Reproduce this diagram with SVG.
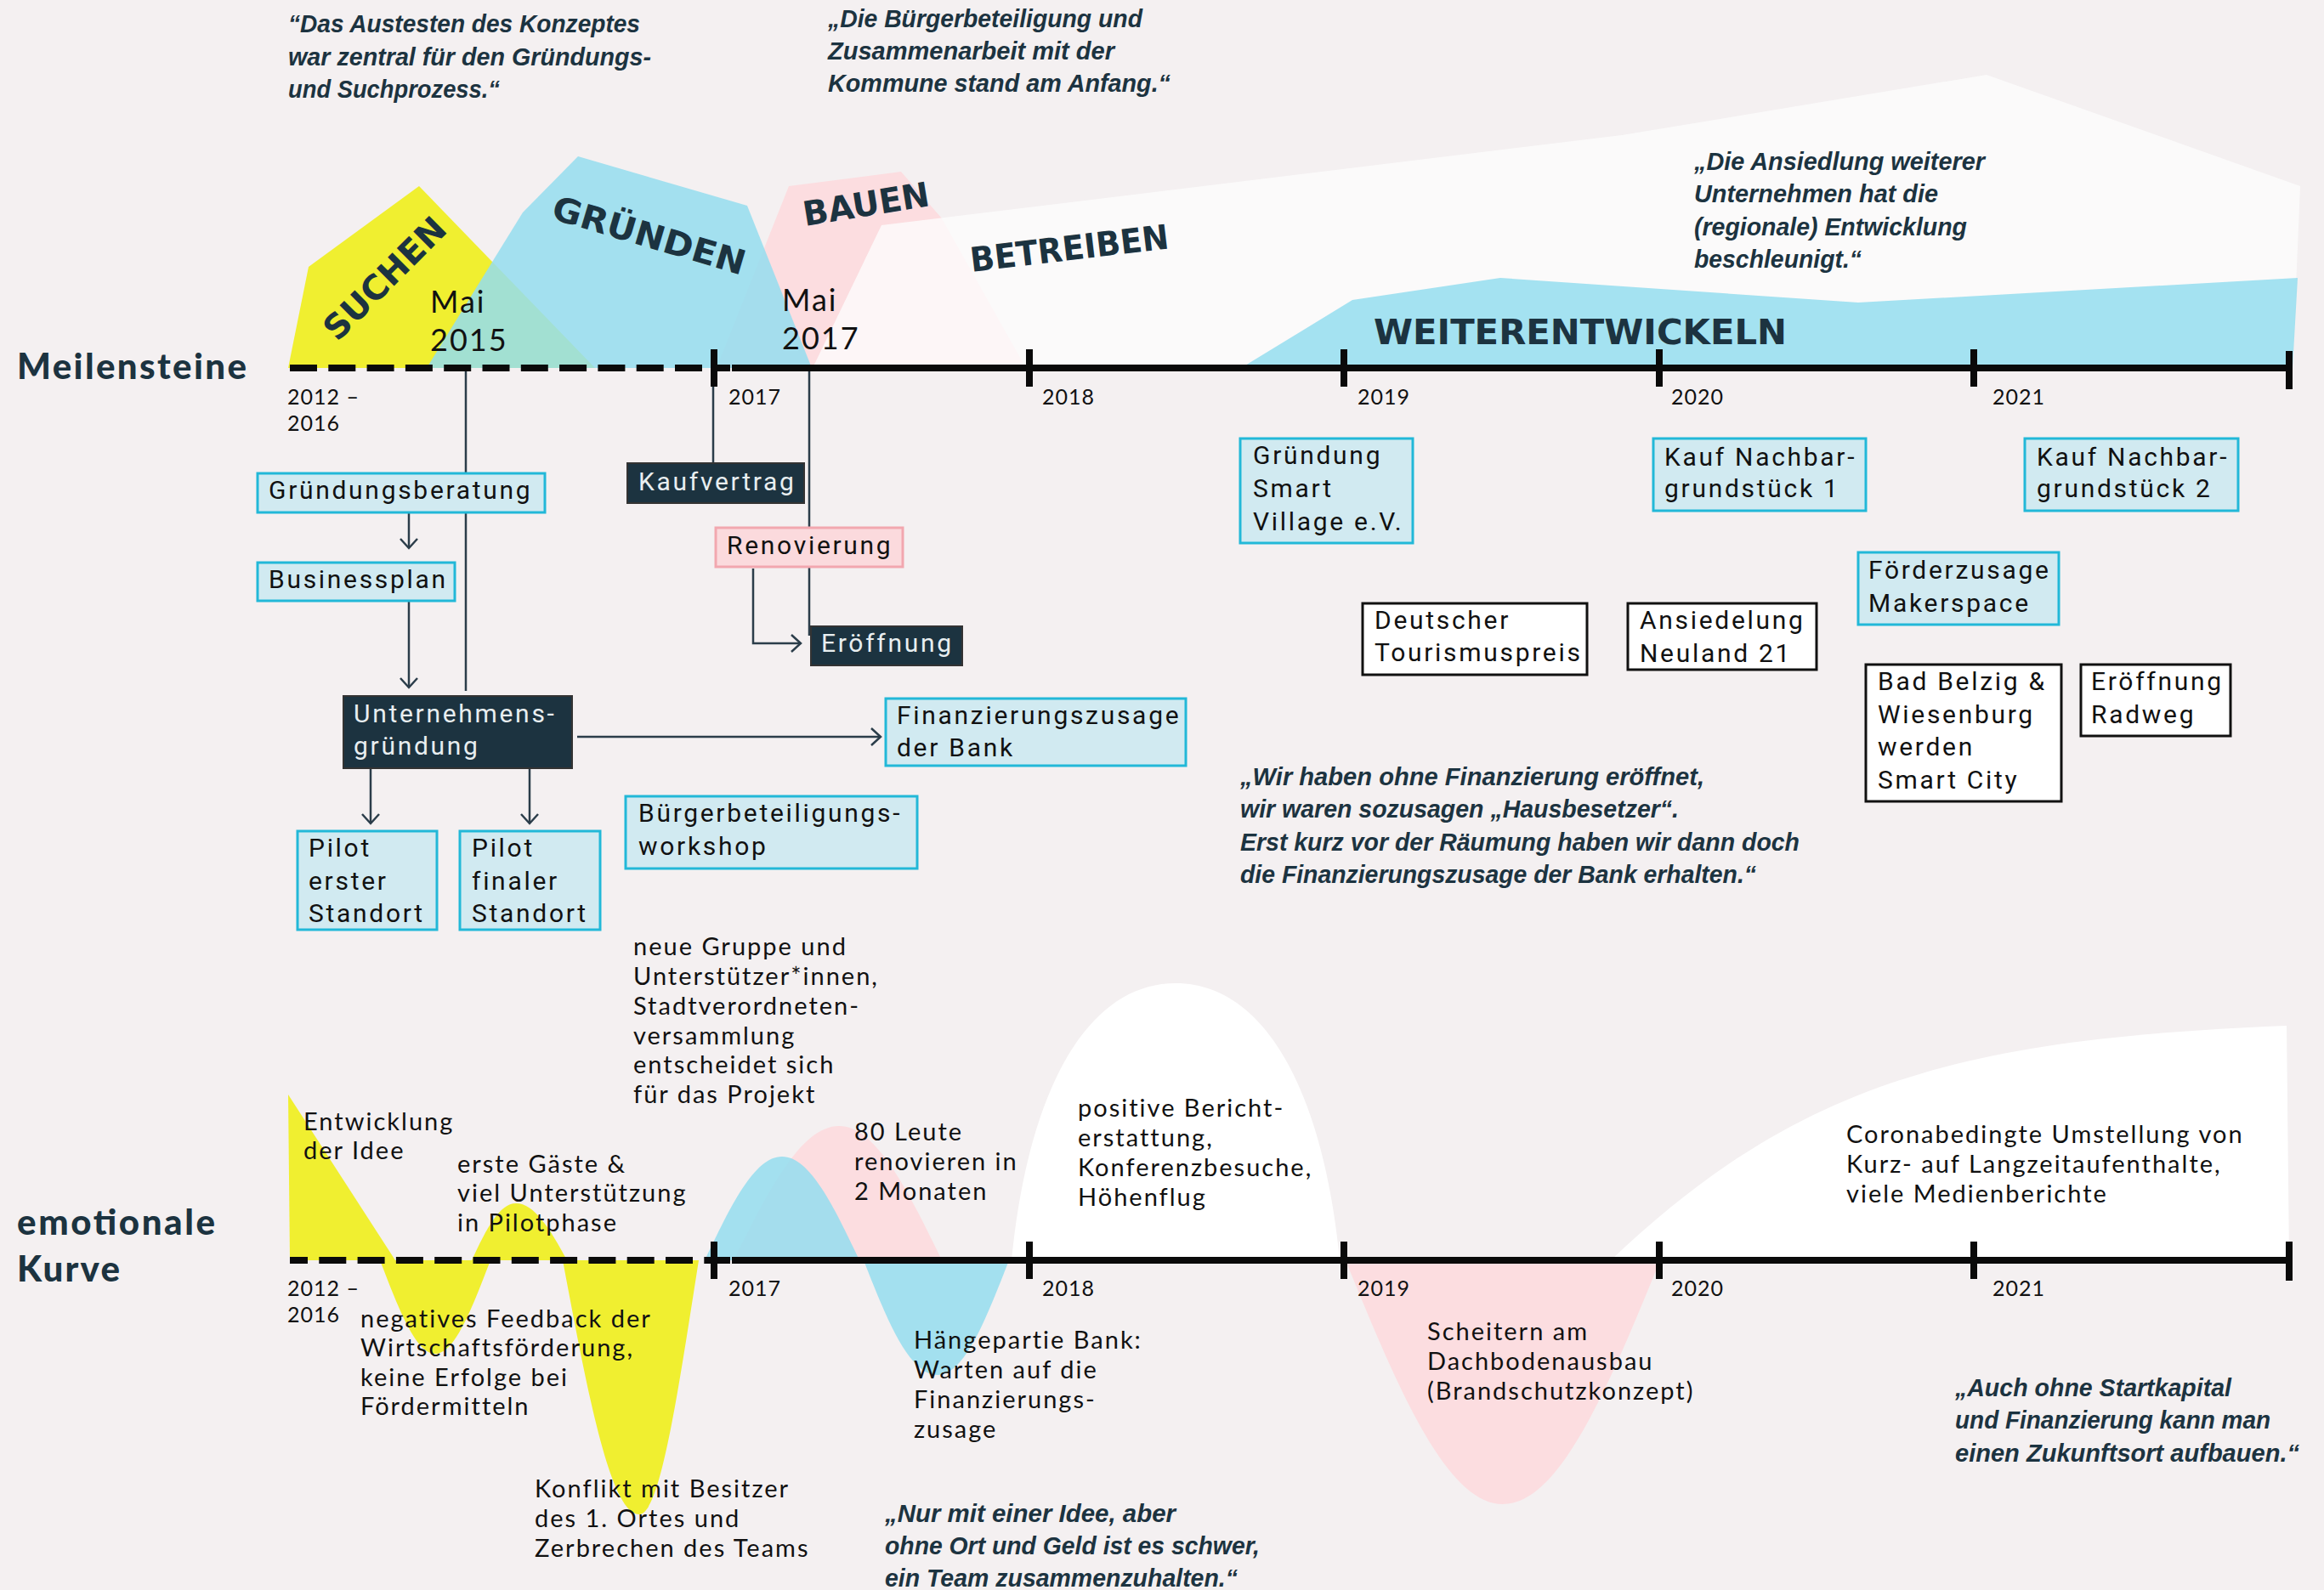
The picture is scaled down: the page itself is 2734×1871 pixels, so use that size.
<svg xmlns="http://www.w3.org/2000/svg" width="2734" height="1871" viewBox="0 0 2734 1871">
<style>
.q{font-family:"Liberation Sans",Arial,sans-serif;font-weight:bold;font-style:italic;font-size:29px;fill:#1c3340}
.ph{font-family:"DejaVu Sans","Noto Sans",sans-serif;font-weight:bold;font-size:40px;fill:#1c3340}
.hd{font-family:Lato,"Noto Sans",sans-serif;font-weight:900;font-size:42px;fill:#1c3340}
.yr{font-family:Lato,"Noto Sans",sans-serif;font-size:25px;fill:#111;letter-spacing:1px}
.mai{font-family:Lato,"Noto Sans",sans-serif;font-size:36px;fill:#111;letter-spacing:2px}
.bx{font-family:Roboto,"Noto Sans",sans-serif;font-size:30px;letter-spacing:2.7px;fill:#111}
.bx.w{fill:#e8eef0}
.lb{font-family:Lato,"Noto Sans",sans-serif;font-size:29px;letter-spacing:2px;fill:#111}
.bb{fill:#d1eaf1;stroke:#22b8d8;stroke-width:3}
.bd{fill:#1c3340;stroke:#333;stroke-width:2}
.bp{fill:#fbdadd;stroke:#f2a7af;stroke-width:3}
.bw{fill:#fff;stroke:#111;stroke-width:3}
.cn{stroke:#2b3d4a;stroke-width:2.5;fill:none}
.tl{stroke:#0a0a0a;stroke-width:8;fill:none}
.blue{fill:#94ddee;fill-opacity:0.85}
.yel{fill:#f0ef30}
.pink{fill:#fcdde0}
</style>
<defs>
<marker id="ah" markerUnits="userSpaceOnUse" markerWidth="24" markerHeight="24" viewBox="0 0 24 24" refX="20" refY="12" orient="auto">
<path d="M9,2 L20,12 L9,22" fill="none" stroke="#2b3d4a" stroke-width="2.5"/>
</marker>
</defs>
<rect width="2734" height="1871" fill="#f4f0f1"/>

<g id="phases">
<polygon class="yel" points="339,433 363,314 493,219 700,433"/>
<polygon class="pink" points="843,433 928,219 1060,202 1108,257 1207,433"/>
<polygon class="blue" points="502,433 615,250 680,184 879,242 955,433"/>
<polygon fill="#fcfcfc" fill-opacity="0.8" points="956,433 1037,265 1908,159 2337,88 2706,219 2697,433"/>
<polygon class="blue" points="1460,433 1591,353 1765,327 2186,356 2703,327 2697,433"/>
<text class="ph" font-size="42" transform="translate(397,403) rotate(-45)" textLength="185" lengthAdjust="spacingAndGlyphs">SUCHEN</text>
<text class="ph" font-size="42" transform="translate(647,257) rotate(16.5)" textLength="235" lengthAdjust="spacingAndGlyphs">GRÜNDEN</text>
<text class="ph" transform="translate(947,266) rotate(-9.2)" textLength="150" lengthAdjust="spacingAndGlyphs">BAUEN</text>
<text class="ph" transform="translate(1143,320) rotate(-6.8)" textLength="235" lengthAdjust="spacingAndGlyphs">BETREIBEN</text>
<text class="ph" font-size="46" x="1616" y="405" textLength="486" lengthAdjust="spacingAndGlyphs">WEITERENTWICKELN</text>
</g>

<g id="curve">
<polygon class="yel" points="339,1288 341,1483 465,1483"/>
<path class="yel" d="M447,1483 C468.7,1539 488.7,1593 512,1593 C535.3,1593 555.3,1539 577,1483 Z"/>
<path class="yel" d="M555,1483 C572,1446 587.7,1416 607,1416 C628.5,1416 647,1446 667,1483 Z"/>
<path class="yel" d="M662,1483 C691.4,1640 718.5,1782 752,1782 C777,1782 797.3,1640 822,1483 Z"/>
<path class="pink" d="M863,1483 C904.4,1400 942.6,1325 987,1325 C1030.3,1325 1067.6,1400 1108,1483 Z"/>
<path class="blue" d="M829,1483 C859.4,1419 887.4,1361 920,1361 C952.6,1361 980.6,1419 1011,1483 Z"/>
<path class="blue" d="M1016,1483 C1044,1555 1070,1618 1103,1618 C1134,1618 1159,1555 1187,1483 Z"/>
<path fill="#ffffff" d="M1190,1483 C1209,1287 1277,1157 1383,1157 C1489,1157 1557,1287 1576,1483 Z"/>
<path class="pink" d="M1583,1483 C1644.8,1635 1701.8,1770 1768,1770 C1834.2,1770 1891.2,1635 1953,1483 Z"/>
<path fill="#ffffff" d="M1895,1483 C2120,1268 2320,1222 2690,1207 L2693,1483 Z"/>
</g>

<g id="timelines">
<line class="tl" x1="341" y1="433" x2="840" y2="433" stroke-dasharray="32 13.3"/>
<line class="tl" x1="840" y1="433" x2="859" y2="433"/>
<line class="tl" x1="861" y1="433" x2="2693" y2="433"/>
<g stroke="#0a0a0a" stroke-width="8">
<line x1="840" y1="411" x2="840" y2="455"/>
<line x1="1211" y1="411" x2="1211" y2="455"/>
<line x1="1581" y1="411" x2="1581" y2="455"/>
<line x1="1952" y1="411" x2="1952" y2="455"/>
<line x1="2322" y1="411" x2="2322" y2="455"/>
<line x1="2693" y1="413" x2="2693" y2="458"/>
</g>
<line class="tl" x1="341" y1="1483" x2="840" y2="1483" stroke-dasharray="32 13.3" stroke-dashoffset="11"/>
<line class="tl" x1="840" y1="1483" x2="859" y2="1483"/>
<line class="tl" x1="861" y1="1483" x2="2693" y2="1483"/>
<g stroke="#0a0a0a" stroke-width="8">
<line x1="840" y1="1461" x2="840" y2="1505"/>
<line x1="1211" y1="1461" x2="1211" y2="1505"/>
<line x1="1581" y1="1461" x2="1581" y2="1505"/>
<line x1="1952" y1="1461" x2="1952" y2="1505"/>
<line x1="2322" y1="1461" x2="2322" y2="1505"/>
<line x1="2693" y1="1461" x2="2693" y2="1507"/>
</g>
</g>

<g id="labels">
<text class="hd" x="20" y="446" textLength="270">Meilensteine</text>
<text class="hd" x="20" y="1453" textLength="233">emotionale</text>
<text class="hd" x="20" y="1508" textLength="121">Kurve</text>
<text class="mai" x="506" y="368">Mai</text>
<text class="mai" x="506" y="413">2015</text>
<text class="mai" x="920" y="366">Mai</text>
<text class="mai" x="920" y="411">2017</text>
<text class="yr" x="338" y="476">2012 –</text>
<text class="yr" x="338" y="507">2016</text>
<text class="yr" x="857" y="476">2017</text>
<text class="yr" x="1226" y="476">2018</text>
<text class="yr" x="1597" y="476">2019</text>
<text class="yr" x="1966" y="476">2020</text>
<text class="yr" x="2344" y="476">2021</text>
<text class="yr" x="338" y="1525">2012 –</text>
<text class="yr" x="338" y="1556">2016</text>
<text class="yr" x="857" y="1525">2017</text>
<text class="yr" x="1226" y="1525">2018</text>
<text class="yr" x="1597" y="1525">2019</text>
<text class="yr" x="1966" y="1525">2020</text>
<text class="yr" x="2344" y="1525">2021</text>
</g>

<g id="quotes">
<text class="q"><tspan x="339" y="38" textLength="414" lengthAdjust="spacingAndGlyphs">“Das Austesten des Konzeptes</tspan></text>
<text class="q"><tspan x="339" y="77" textLength="427" lengthAdjust="spacingAndGlyphs">war zentral für den Gründungs-</tspan></text>
<text class="q"><tspan x="339" y="115" textLength="249" lengthAdjust="spacingAndGlyphs">und Suchprozess.“</tspan></text>

<text class="q"><tspan x="974" y="32" textLength="370" lengthAdjust="spacingAndGlyphs">„Die Bürgerbeteiligung und</tspan></text>
<text class="q"><tspan x="974" y="70" textLength="337" lengthAdjust="spacingAndGlyphs">Zusammenarbeit mit der</tspan></text>
<text class="q"><tspan x="974" y="108" textLength="403" lengthAdjust="spacingAndGlyphs">Kommune stand am Anfang.“</tspan></text>

<text class="q"><tspan x="1993" y="200" textLength="342" lengthAdjust="spacingAndGlyphs">„Die Ansiedlung weiterer</tspan></text>
<text class="q"><tspan x="1993" y="238" textLength="287" lengthAdjust="spacingAndGlyphs">Unternehmen hat die</tspan></text>
<text class="q"><tspan x="1993" y="277" textLength="321" lengthAdjust="spacingAndGlyphs">(regionale) Entwicklung</tspan></text>
<text class="q"><tspan x="1993" y="315" textLength="197" lengthAdjust="spacingAndGlyphs">beschleunigt.“</tspan></text>

<text class="q"><tspan x="1459" y="924" textLength="546" lengthAdjust="spacingAndGlyphs">„Wir haben ohne Finanzierung eröffnet,</tspan></text>
<text class="q"><tspan x="1459" y="962" textLength="516" lengthAdjust="spacingAndGlyphs">wir waren sozusagen „Hausbesetzer“.</tspan></text>
<text class="q"><tspan x="1459" y="1001" textLength="658" lengthAdjust="spacingAndGlyphs">Erst kurz vor der Räumung haben wir dann doch</tspan></text>
<text class="q"><tspan x="1459" y="1039" textLength="607" lengthAdjust="spacingAndGlyphs">die Finanzierungszusage der Bank erhalten.“</tspan></text>

<text class="q"><tspan x="1041" y="1791" textLength="342" lengthAdjust="spacingAndGlyphs">„Nur mit einer Idee, aber</tspan></text>
<text class="q"><tspan x="1041" y="1829" textLength="441" lengthAdjust="spacingAndGlyphs">ohne Ort und Geld ist es schwer,</tspan></text>
<text class="q"><tspan x="1041" y="1867" textLength="415" lengthAdjust="spacingAndGlyphs">ein Team zusammenzuhalten.“</tspan></text>

<text class="q"><tspan x="2300" y="1643" textLength="325" lengthAdjust="spacingAndGlyphs">„Auch ohne Startkapital</tspan></text>
<text class="q"><tspan x="2300" y="1681" textLength="371" lengthAdjust="spacingAndGlyphs">und Finanzierung kann man</tspan></text>
<text class="q"><tspan x="2300" y="1720" textLength="405" lengthAdjust="spacingAndGlyphs">einen Zukunftsort aufbauen.“</tspan></text>
</g>

<g id="curve-labels">
<text class="lb"><tspan x="357" y="1330">Entwicklung</tspan><tspan x="357" y="1364">der Idee</tspan></text>
<text class="lb"><tspan x="538" y="1380">erste Gäste &amp;</tspan><tspan x="538" y="1414">viel Unterstützung</tspan><tspan x="538" y="1449">in Pilotphase</tspan></text>
<text class="lb"><tspan x="424" y="1562">negatives Feedback der</tspan><tspan x="424" y="1596">Wirtschaftsförderung,</tspan><tspan x="424" y="1631">keine Erfolge bei</tspan><tspan x="424" y="1665">Fördermitteln</tspan></text>
<text class="lb"><tspan x="629" y="1762">Konflikt mit Besitzer</tspan><tspan x="629" y="1797">des 1. Ortes und</tspan><tspan x="629" y="1832">Zerbrechen des Teams</tspan></text>
<text class="lb"><tspan x="745" y="1124">neue Gruppe und</tspan><tspan x="745" y="1159">Unterstützer*innen,</tspan><tspan x="745" y="1194">Stadtverordneten-</tspan><tspan x="745" y="1229">versammlung</tspan><tspan x="745" y="1263">entscheidet sich</tspan><tspan x="745" y="1298">für das Projekt</tspan></text>
<text class="lb"><tspan x="1005" y="1342">80 Leute</tspan><tspan x="1005" y="1377">renovieren in</tspan><tspan x="1005" y="1412">2 Monaten</tspan></text>
<text class="lb"><tspan x="1268" y="1314">positive Bericht-</tspan><tspan x="1268" y="1349">erstattung,</tspan><tspan x="1268" y="1384">Konferenzbesuche,</tspan><tspan x="1268" y="1419">Höhenflug</tspan></text>
<text class="lb"><tspan x="1075" y="1587">Hängepartie Bank:</tspan><tspan x="1075" y="1622">Warten auf die</tspan><tspan x="1075" y="1657">Finanzierungs-</tspan><tspan x="1075" y="1692">zusage</tspan></text>
<text class="lb"><tspan x="1679" y="1577">Scheitern am</tspan><tspan x="1679" y="1612">Dachbodenausbau</tspan><tspan x="1679" y="1647">(Brandschutzkonzept)</tspan></text>
<text class="lb"><tspan x="2172" y="1345">Coronabedingte Umstellung von</tspan><tspan x="2172" y="1380">Kurz- auf Langzeitaufenthalte,</tspan><tspan x="2172" y="1415">viele Medienberichte</tspan></text>
</g>

<g id="connectors" class="cn">
<line x1="548" y1="437" x2="548" y2="813"/>
<line x1="839" y1="455" x2="839" y2="545"/>
<line x1="952" y1="437" x2="952" y2="748"/>
<line x1="481" y1="603" x2="481" y2="645" marker-end="url(#ah)"/>
<line x1="481" y1="708" x2="481" y2="809" marker-end="url(#ah)"/>
<line x1="436" y1="904" x2="436" y2="969" marker-end="url(#ah)"/>
<line x1="623" y1="904" x2="623" y2="969" marker-end="url(#ah)"/>
<line x1="679" y1="867" x2="1036" y2="867" marker-end="url(#ah)"/>
<polyline points="886,669 886,757 942,757" marker-end="url(#ah)"/>
</g>

<g id="n-gruendungsberatung"><rect class="bb" x="303" y="557" width="338" height="46"/><text class="bx" x="316" y="587">Gründungsberatung</text></g>
<g id="n-businessplan"><rect class="bb" x="303" y="662" width="232" height="45"/><text class="bx" x="316" y="692">Businessplan</text></g>
<g id="n-unternehmensgruendung"><rect class="bd" x="404" y="819" width="269" height="85"/><text class="bx w"><tspan x="416" y="850">Unternehmens-</tspan><tspan x="416" y="888">gründung</tspan></text></g>
<g id="n-pilot1"><rect class="bb" x="350" y="978" width="164" height="116"/><text class="bx"><tspan x="363" y="1008">Pilot</tspan><tspan x="363" y="1047">erster</tspan><tspan x="363" y="1085">Standort</tspan></text></g>
<g id="n-pilot2"><rect class="bb" x="541" y="978" width="165" height="116"/><text class="bx"><tspan x="555" y="1008">Pilot</tspan><tspan x="555" y="1047">finaler</tspan><tspan x="555" y="1085">Standort</tspan></text></g>
<g id="n-kaufvertrag"><rect class="bd" x="738" y="545" width="208" height="47"/><text class="bx w" x="751" y="577">Kaufvertrag</text></g>
<g id="n-renovierung"><rect class="bp" x="842" y="621" width="220" height="46"/><text class="bx" x="855" y="652">Renovierung</text></g>
<g id="n-eroeffnung"><rect class="bd" x="954" y="737" width="178" height="46"/><text class="bx w" x="966" y="767">Eröffnung</text></g>
<g id="n-finanzierung"><rect class="bb" x="1042" y="822" width="353" height="79"/><text class="bx"><tspan x="1055" y="852">Finanzierungszusage</tspan><tspan x="1055" y="890">der Bank</tspan></text></g>
<g id="n-workshop"><rect class="bb" x="736" y="937" width="343" height="85"/><text class="bx"><tspan x="751" y="967">Bürgerbeteiligungs-</tspan><tspan x="751" y="1006">workshop</tspan></text></g>
<g id="n-smartvillage"><rect class="bb" x="1459" y="516" width="203" height="123"/><text class="bx"><tspan x="1474" y="546">Gründung</tspan><tspan x="1474" y="585">Smart</tspan><tspan x="1474" y="624">Village e.V.</tspan></text></g>
<g id="n-tourismuspreis"><rect class="bw" x="1603" y="710" width="264" height="84"/><text class="bx"><tspan x="1617" y="740">Deutscher</tspan><tspan x="1617" y="778">Tourismuspreis</tspan></text></g>
<g id="n-kauf1"><rect class="bb" x="1945" y="516" width="250" height="85"/><text class="bx"><tspan x="1958" y="548">Kauf Nachbar-</tspan><tspan x="1958" y="585">grundstück 1</tspan></text></g>
<g id="n-kauf2"><rect class="bb" x="2382" y="516" width="251" height="85"/><text class="bx"><tspan x="2396" y="548">Kauf Nachbar-</tspan><tspan x="2396" y="585">grundstück 2</tspan></text></g>
<g id="n-neuland"><rect class="bw" x="1915" y="710" width="222" height="78"/><text class="bx"><tspan x="1929" y="740">Ansiedelung</tspan><tspan x="1929" y="779">Neuland 21</tspan></text></g>
<g id="n-makerspace"><rect class="bb" x="2186" y="650" width="236" height="85"/><text class="bx"><tspan x="2198" y="681">Förderzusage</tspan><tspan x="2198" y="720">Makerspace</tspan></text></g>
<g id="n-smartcity"><rect class="bw" x="2195" y="782" width="230" height="161"/><text class="bx"><tspan x="2209" y="812">Bad Belzig &amp;</tspan><tspan x="2209" y="851">Wiesenburg</tspan><tspan x="2209" y="889">werden</tspan><tspan x="2209" y="928">Smart City</tspan></text></g>
<g id="n-radweg"><rect class="bw" x="2448" y="782" width="176" height="84"/><text class="bx"><tspan x="2460" y="812">Eröffnung</tspan><tspan x="2460" y="851">Radweg</tspan></text></g>
</svg>
